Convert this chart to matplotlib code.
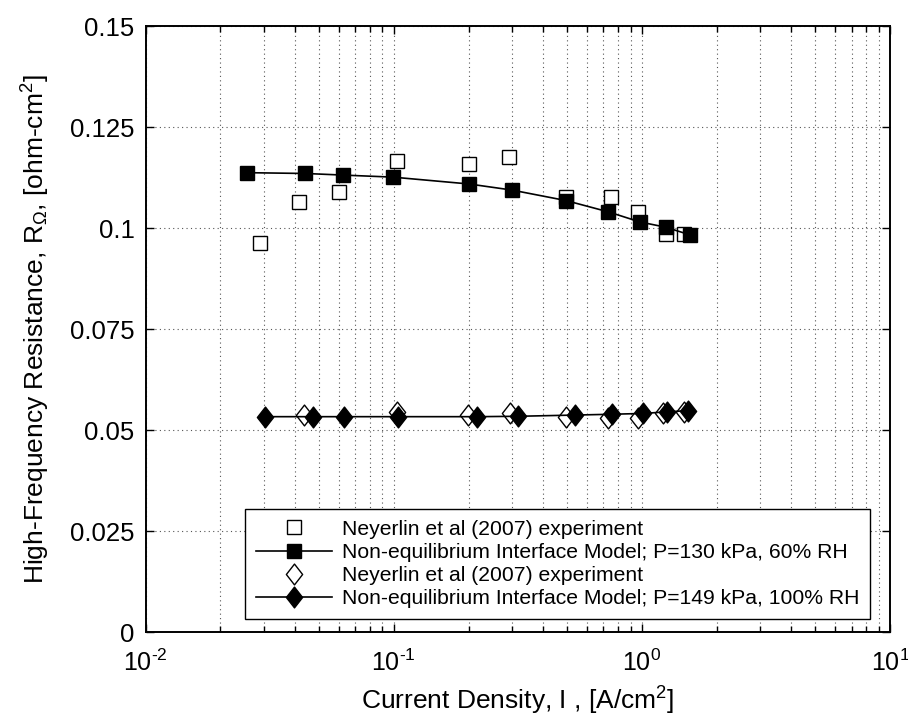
import numpy as np
import matplotlib
matplotlib.use('Agg')
import matplotlib.pyplot as plt
from matplotlib.path import Path
from matplotlib.ticker import LogLocator, FixedLocator, FuncFormatter, NullFormatter

# Neyerlin et al (2007) experiment, P=130 kPa, 60% RH
exp60_i = [0.0289, 0.0415, 0.0603, 0.1027, 0.201, 0.292, 0.495, 0.748, 0.967, 1.247, 1.478]
exp60_r = [0.0964, 0.1065, 0.1088, 0.1167, 0.1158, 0.1175, 0.1077, 0.1077, 0.1040, 0.0985, 0.0984]

# Non-equilibrium interface model, P=130 kPa, 60% RH
model60_i = [0.0255, 0.0440, 0.0626, 0.099, 0.201, 0.299, 0.494, 0.732, 0.982, 1.247, 1.563]
model60_r = [0.1137, 0.1135, 0.1131, 0.1126, 0.1109, 0.1094, 0.1068, 0.1040, 0.1015, 0.1002, 0.0983]

# Neyerlin et al (2007) experiment, P=149 kPa, 100% RH
exp100_i = [0.0435, 0.1027, 0.1997, 0.294, 0.494, 0.732, 0.967, 1.22, 1.478]
exp100_r = [0.0537, 0.0545, 0.0537, 0.0541, 0.0533, 0.0529, 0.0529, 0.0541, 0.0545]

# Non-equilibrium interface model, P=149 kPa, 100% RH
model100_i = [0.0303, 0.0474, 0.063, 0.1042, 0.2171, 0.3177, 0.537, 0.755, 1.013, 1.259, 1.538]
model100_r = [0.0533, 0.0533, 0.0533, 0.0533, 0.0533, 0.0534, 0.0537, 0.0539, 0.0541, 0.0545, 0.0548]

y_ticks = [0, 0.025, 0.05, 0.075, 0.1, 0.125, 0.15]

plt.rcParams['font.family'] = ['Liberation Sans', 'DejaVu Sans']
plt.rcParams['mathtext.fontset'] = 'custom'
plt.rcParams['mathtext.rm'] = 'Liberation Sans'
plt.rcParams['mathtext.it'] = 'Liberation Sans'
plt.rcParams['mathtext.default'] = 'regular'

# MATLAB style diamond (a bit taller than wide)
diamond = Path([(0, 1), (0.78, 0), (0, -1), (-0.78, 0), (0, 1)],
               [Path.MOVETO, Path.LINETO, Path.LINETO, Path.LINETO, Path.CLOSEPOLY])

fig = plt.figure(figsize=(9.08, 7.19), dpi=100)
ax = fig.add_axes([0.1605, 0.121, 0.8197, 0.8428])

ax.plot(exp60_i, exp60_r, linestyle='none', marker='s', markersize=9.5,
        markerfacecolor='white', markeredgecolor='black', markeredgewidth=1.0,
        label='Neyerlin et al (2007) experiment')
ax.plot(model60_i, model60_r, color='black', linewidth=1.2, marker='s', markersize=9.5,
        markerfacecolor='black', markeredgecolor='black',
        label='Non-equilibrium Interface Model; P=130 kPa, 60% RH')
ax.plot(exp100_i, exp100_r, linestyle='none', marker=diamond, markersize=15,
        markerfacecolor='white', markeredgecolor='black', markeredgewidth=1.0,
        label='Neyerlin et al (2007) experiment')
ax.plot(model100_i, model100_r, color='black', linewidth=1.2, marker=diamond, markersize=15,
        markerfacecolor='black', markeredgecolor='black',
        label='Non-equilibrium Interface Model; P=149 kPa, 100% RH')

ax.set_xscale('log')
ax.set_xlim(1e-2, 1e1)
ax.set_ylim(0, 0.15)

ax.xaxis.set_major_locator(LogLocator(base=10, numticks=10))
ax.xaxis.set_minor_locator(LogLocator(base=10, subs=np.arange(2, 10), numticks=20))
ax.xaxis.set_minor_formatter(NullFormatter())
ax.xaxis.set_major_formatter(FuncFormatter(lambda v, p: r'$10^{\text{%d}}$' % round(np.log10(v))))
ax.yaxis.set_major_locator(FixedLocator(y_ticks))
ax.yaxis.set_major_formatter(FuncFormatter(lambda v, p: '%g' % v))

ax.tick_params(which='both', direction='in', top=True, right=True, width=1.0)
ax.tick_params(which='major', length=6)
ax.tick_params(which='minor', length=4)
ax.tick_params(axis='y', labelsize=18.5, pad=8)
ax.tick_params(axis='x', labelsize=18, pad=13)

grid_style = dict(linestyle=(0, (1, 3)), color='#555555', linewidth=0.8)
ax.grid(True, which='major', axis='both', **grid_style)
ax.grid(True, which='minor', axis='x', **grid_style)
ax.set_axisbelow(True)

for side in ax.spines.values():
    side.set_linewidth(1.4)

ax.set_xlabel('Current Density, I , [A/cm$^2$]', fontsize=19, labelpad=6)
ax.set_ylabel(r'High-Frequency Resistance, R$_\Omega$, [ohm-cm$^2$]', fontsize=19, labelpad=13)

leg = ax.legend(loc='lower left', bbox_to_anchor=(245 / 908, 1 - 619 / 719),
                bbox_transform=fig.transFigure, fontsize=15.2, frameon=True,
                fancybox=False, framealpha=1, edgecolor='black',
                handlelength=3.6, handletextpad=0.5, labelspacing=0.2,
                borderpad=0.5, borderaxespad=0)
leg.get_frame().set_linewidth(1.0)

fig.savefig('out.png', dpi=100)
